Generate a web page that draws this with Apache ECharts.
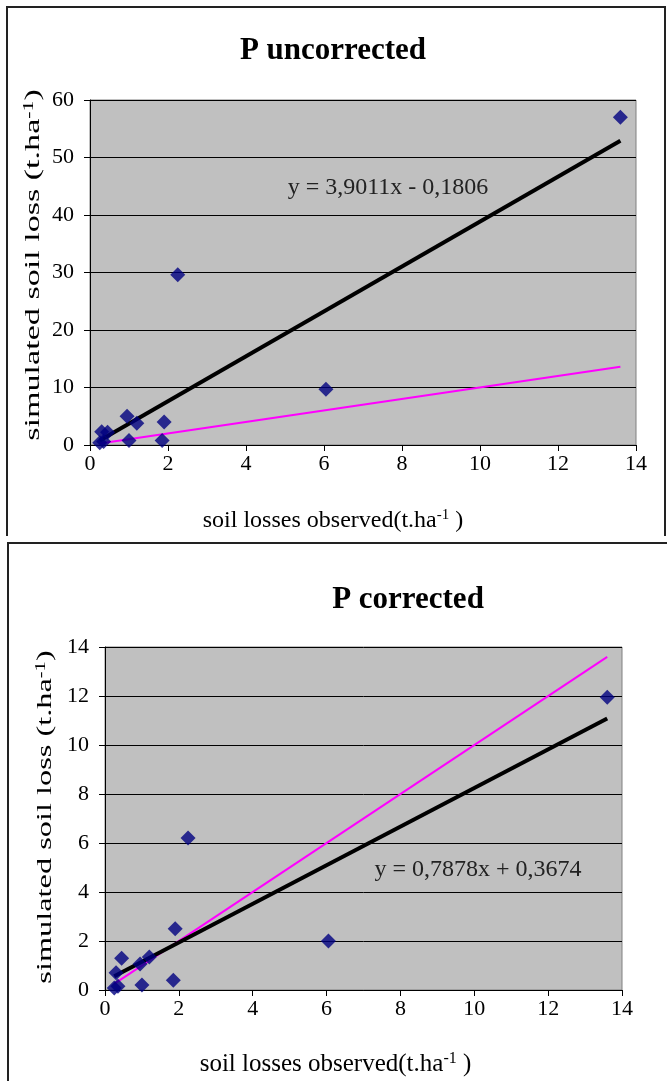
<!DOCTYPE html>
<html><head><meta charset="utf-8">
<script src="https://cdn.jsdelivr.net/npm/echarts@6/dist/echarts.min.js"></script>
<style>html,body{margin:0;padding:0;background:#fff}#c{width:667px;height:1081px}</style>
</head><body><div id="c"></div>
<script>
// observed soil losses (t/ha)
const obsX = [13.6, 2.25, 6.05, 0.95, 1.2, 1.9, 1.0, 1.85, 0.3, 0.45, 0.25, 0.35];
// simulated, P uncorrected
const simUncorr = [57.0, 29.6, 9.7, 5.0, 3.8, 4.0, 0.8, 0.8, 2.3, 2.2, 0.4, 0.6];
// simulated, P corrected
const simCorr = [11.95, 6.2, 2.0, 1.06, 1.35, 2.5, 0.2, 0.4, 0.7, 1.3, 0.08, 0.15];
// trend lines (endpoints) and 1:1 line
const trendX = [0.25, 13.6];
const trendUncorr = [0.8, 52.9];
const trendCorr = [0.56, 11.08];
const oneToOneX = [0.25, 13.6];
const oneToOneY = [0.25, 13.6];
const eqUncorr = 'y = 3,9011x - 0,1806';
const eqCorr = 'y = 0,7878x + 0,3674';
const titles = ['P uncorrected', 'P corrected'];

const serif = '"Liberation Serif", "DejaVu Serif", serif';
const pts = (xs, ys) => xs.map((x, i) => [x, ys[i]]);

function richLabel(size, weight, supPad) {
  return {
    a: { fontFamily: serif, fontSize: size, fontWeight: weight, color: '#000' },
    s: { fontFamily: serif, fontSize: Math.round(size * 0.62), fontWeight: weight, color: '#000', verticalAlign: 'top', padding: [0, 0, supPad, 0] }
  };
}
function xName(size, weight, shiftLeft) {
  return {
    name: '{a|soil losses observed(t.ha}{s|-1}{a| )}',
    nameLocation: 'middle',
    nameTextStyle: { rich: richLabel(size, weight, 10), padding: [0, shiftLeft * 2, 0, 0] }
  };
}
function yNameGraphic(cx, cy, size, weight, stretch) {
  return {
    type: 'text', x: cx, y: cy, rotation: Math.PI / 2, scaleX: stretch, z: 10,
    style: {
      text: '{a|simulated soil loss (t.ha}{s|-1}{a|)}',
      rich: richLabel(size, weight, 8),
      align: 'center', verticalAlign: 'middle'
    }
  };
}
const axisCommon = {
  axisLine: { show: true, onZero: false, lineStyle: { color: '#000', width: 1 } },
  axisTick: { show: true, inside: false, length: 6, lineStyle: { color: '#000' } }
};
const tickFont = { fontFamily: serif, fontSize: 22, color: '#000' };

const chart = echarts.init(document.getElementById('c'), null, { renderer: 'canvas' });
chart.setOption({
  animation: false,
  title: [
    { text: titles[0], left: 328, top: 30, textAlign: 'center',
      textStyle: { fontFamily: serif, fontSize: 31, fontWeight: 'bold', color: '#000' } },
    { text: titles[1], left: 403, top: 579, textAlign: 'center',
      textStyle: { fontFamily: serif, fontSize: 31, fontWeight: 'bold', color: '#000' } }
  ],
  grid: [
    { left: 90, top: 100, width: 546, height: 345, show: true, backgroundColor: '#C0C0C0', borderColor: '#808080', borderWidth: 1 },
    { left: 105, top: 647, width: 517, height: 343, show: true, backgroundColor: '#C0C0C0', borderColor: '#808080', borderWidth: 1 }
  ],
  xAxis: [
    Object.assign({ gridIndex: 0, type: 'value', min: 0, max: 14, interval: 2, nameGap: 63,
      splitLine: { show: false } }, axisCommon, xName(24, 'normal', 30),
      { axisLabel: Object.assign({ margin: 8 }, tickFont) }),
    Object.assign({ gridIndex: 1, type: 'value', min: 0, max: 14, interval: 2, nameGap: 61,
      splitLine: { show: false } }, axisCommon, xName(25, 'normal', 28),
      { axisLabel: Object.assign({ margin: 8 }, tickFont) })
  ],
  yAxis: [
    Object.assign({ gridIndex: 0, type: 'value', min: 0, max: 60, interval: 10,
      splitLine: { show: true, lineStyle: { color: '#000', width: 1 } } }, axisCommon,
      { axisLabel: Object.assign({ margin: 16 }, tickFont) }),
    Object.assign({ gridIndex: 1, type: 'value', min: 0, max: 14, interval: 2,
      splitLine: { show: true, lineStyle: { color: '#000', width: 1 } } }, axisCommon,
      { axisLabel: Object.assign({ margin: 16 }, tickFont) })
  ],
  series: [
    { type: 'line', xAxisIndex: 0, yAxisIndex: 0, data: pts(oneToOneX, oneToOneY), symbol: 'none',
      lineStyle: { color: '#FF00FF', width: 2 }, z: 2, silent: true },
    { type: 'line', xAxisIndex: 0, yAxisIndex: 0, data: pts(trendX, trendUncorr), symbol: 'none',
      lineStyle: { color: '#000', width: 4 }, z: 3, silent: true },
    { type: 'scatter', xAxisIndex: 0, yAxisIndex: 0, data: pts(obsX, simUncorr), symbol: 'diamond',
      symbolSize: 15, itemStyle: { color: '#000080' }, z: 4 },
    { type: 'line', xAxisIndex: 1, yAxisIndex: 1, data: pts(oneToOneX, oneToOneY), symbol: 'none',
      lineStyle: { color: '#FF00FF', width: 2 }, z: 2, silent: true },
    { type: 'line', xAxisIndex: 1, yAxisIndex: 1, data: pts(trendX, trendCorr), symbol: 'none',
      lineStyle: { color: '#000', width: 4 }, z: 3, silent: true },
    { type: 'scatter', xAxisIndex: 1, yAxisIndex: 1, data: pts(obsX, simCorr), symbol: 'diamond',
      symbolSize: 15, itemStyle: { color: '#000080' }, z: 4 }
  ],
  graphic: [
    { type: 'polyline', shape: { points: [[7, 536], [7, 7], [665, 7], [665, 536]] },
      style: { stroke: '#222', lineWidth: 2, fill: null }, z: 10 },
    { type: 'polyline', shape: { points: [[8, 1081], [8, 543], [667, 543]] },
      style: { stroke: '#222', lineWidth: 2, fill: null }, z: 10 },
    { type: 'text', x: 388, y: 188, style: { text: eqUncorr, fontFamily: serif, fontSize: 24, fill: '#222',
      align: 'center', verticalAlign: 'middle' }, z: 10 },
    { type: 'text', x: 478, y: 870, style: { text: eqCorr, fontFamily: serif, fontSize: 24, fill: '#222',
      align: 'center', verticalAlign: 'middle' }, z: 10 },
    yNameGraphic(33, 265, 22, 'normal', 1.55),
    yNameGraphic(45, 817, 22, 'normal', 1.47)
  ]
});
</script></body></html>
